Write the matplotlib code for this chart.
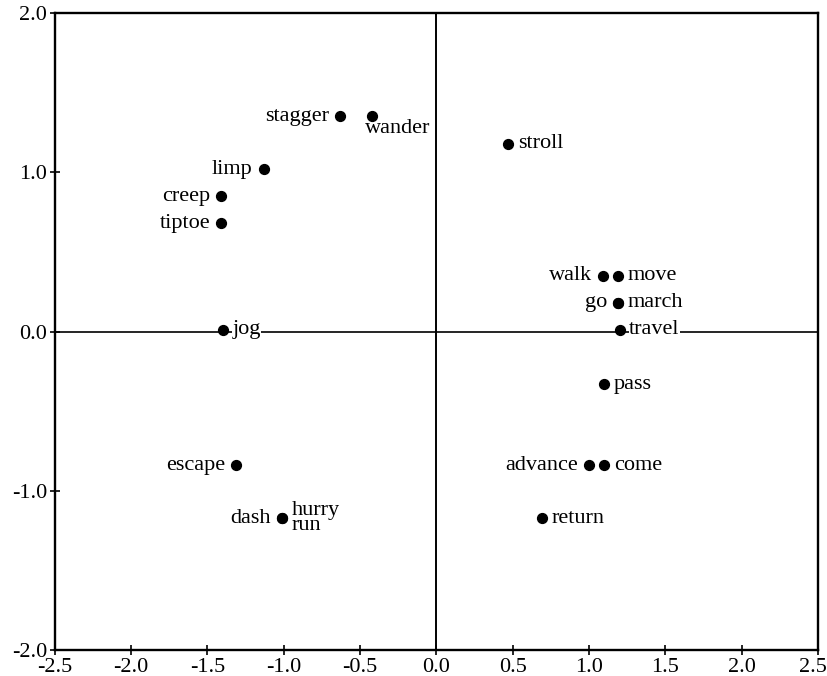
import matplotlib.pyplot as plt
from matplotlib.transforms import ScaledTranslation

# word coordinates on the two dimensions
words = ["stagger", "wander", "stroll", "limp", "creep", "tiptoe", "jog",
         "walk", "move", "go", "march", "travel", "pass", "escape",
         "dash", "hurry\nrun", "advance", "come", "return"]
dim1 = [-0.63, -0.42, 0.47, -1.13, -1.41, -1.41, -1.40,
        1.09, 1.19, 1.19, 1.19, 1.20, 1.10, -1.31,
        -1.01, -1.01, 1.00, 1.10, 0.69]
dim2 = [1.35, 1.35, 1.18, 1.02, 0.85, 0.68, 0.01,
        0.35, 0.35, 0.18, 0.18, 0.01, -0.33, -0.84,
        -1.17, -1.17, -0.84, -0.84, -1.17]
# which side of the dot each label sits on
side = ["L", "B", "R", "L", "L", "L", "R",
        "L", "R", "L", "R", "R", "R", "L",
        "L", "R", "L", "R", "R"]

plt.rcParams['font.family'] = ['Liberation Serif', 'DejaVu Serif']

fig = plt.figure(figsize=(8.28, 6.76), dpi=100)
ax = fig.add_axes([0.066, 0.038, 0.922, 0.943])

ax.axhline(0, color="black", lw=1.2, zorder=1)
ax.axvline(0, color="black", lw=1.4, zorder=1)

ax.scatter(dim1, dim2, s=50, color="black", zorder=3)

for w, x, y, s in zip(words, dim1, dim2, side):
    if s == "L":
        ax.annotate(w, (x, y), xytext=(-8, 0), textcoords="offset points",
                    ha="right", va="center", fontsize=16, zorder=2,
                    bbox=dict(fc="white", ec="none", pad=0.5))
    elif s == "R":
        ax.annotate(w, (x, y), xytext=(7, 0), textcoords="offset points",
                    ha="left", va="center", fontsize=16, zorder=2,
                    linespacing=0.72,
                    bbox=dict(fc="white", ec="none", pad=0.5))
    else:
        ax.annotate(w, (x, y), xytext=(-5, -2), textcoords="offset points",
                    ha="left", va="top", fontsize=16, zorder=2)

ax.set_xlim(-2.5, 2.5)
ax.set_ylim(-2.0, 2.0)
ax.set_xticks([-2.5, -2.0, -1.5, -1.0, -0.5, 0.0, 0.5, 1.0, 1.5, 2.0, 2.5])
ax.set_yticks([-2.0, -1.0, 0.0, 1.0, 2.0])
ax.xaxis.set_major_formatter(plt.FormatStrFormatter("%.1f"))
ax.yaxis.set_major_formatter(plt.FormatStrFormatter("%.1f"))
ax.tick_params(direction="inout", length=7, width=1.2, labelsize=16, pad=2)

for sp in ax.spines.values():
    sp.set_linewidth(1.7)

# keep the last x label inside the figure edge
fig.canvas.draw()
last = ax.get_xticklabels()[-1]
last.set_ha("right")
last.set_transform(last.get_transform() + ScaledTranslation(0.09, 0, fig.dpi_scale_trans))

fig.savefig("out.png")
